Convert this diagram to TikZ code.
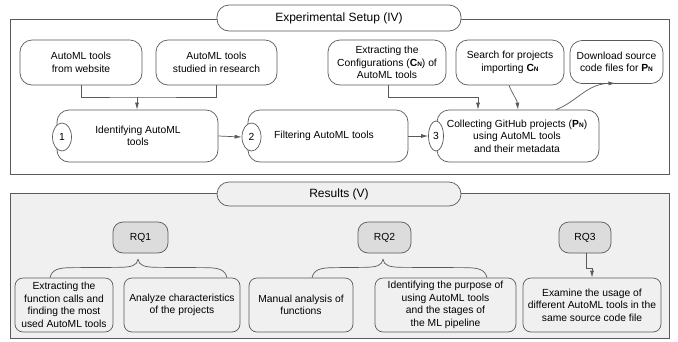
\documentclass[tikz,border=0pt]{standalone}
\usepackage{fontspec}
\setmainfont{Liberation Sans}
\usetikzlibrary{arrows.meta,shapes.geometric,calc}
\definecolor{ln}{HTML}{5A5A5A}
\definecolor{bgg}{HTML}{F0F0F0}
\definecolor{rqg}{HTML}{DCDCDC}
\newcommand{\subN}[1]{\textbf{#1\fontsize{6.5}{7}\selectfont N}}
\begin{document}
\begin{tikzpicture}[x=1pt,y=-1pt,
  every node/.style={font=\fontsize{10.3}{12.5}\selectfont, align=center, inner sep=0pt},
  frame/.style={draw=ln, line width=0.7pt},
  pill/.style={draw=ln, line width=0.7pt, rounded corners=12pt},
  tbox/.style={draw=ln, line width=0.7pt, rounded corners=12pt, fill=white},
  sbox/.style={draw=ln, line width=0.7pt, rounded corners=8pt, fill=bgg},
  rqbox/.style={draw=ln, line width=0.7pt, rounded corners=10pt, fill=rqg},
  numell/.style={draw=ln, line width=0.7pt, ellipse, fill=white, minimum width=19pt, minimum height=28pt},
  conn/.style={draw=ln, line width=0.7pt},
  arr/.style={draw=ln, line width=0.7pt, -{Latex[length=7pt,width=4pt]}}
]
\useasboundingbox (0,0) rectangle (678,341);
% frames
\draw[frame, fill=white] (10,19) rectangle (669,174);
\draw[pill, fill=white] (217,5) rectangle (461,31);
\node[font=\fontsize{12}{14}\selectfont] (t1) at (339,18) {Experimental Setup (IV)};
\draw[frame, fill=bgg] (10,193) rectangle (669,338);
\draw[pill, fill=bgg] (217,182) rectangle (461,206);
\node[font=\fontsize{12}{14}\selectfont] (t2) at (339,194) {Results (V)};

% top row
\node[tbox, minimum width=122pt, minimum height=45pt] (tA) at (81,62.5) {AutoML tools\\from website};
\node[tbox, minimum width=121pt, minimum height=45pt] (tB) at (216.5,62.5) {AutoML tools\\studied in research};
\node[tbox, minimum width=118pt, minimum height=45pt] (tC) at (387,62.5) {Extracting the\\Configurations (\subN{C}) of\\AutoML tools};
\node[tbox, minimum width=108pt, minimum height=45pt] (tD) at (510,62.5) {Search for projects\\importing \subN{C}};
\node[tbox, minimum width=93pt, minimum height=43pt] (tE) at (616.5,62) {Download source\\code files for \subN{P}};

% second row
\node[tbox, minimum width=161pt, minimum height=52pt] (b1) at (137.5,136) {};
\node (b1t) at (138,136) {Identifying AutoML\\tools};
\node[numell] (c1) at (62,137) {1};
\node[tbox, minimum width=160pt, minimum height=52pt] (b2) at (328,136) {};
\node (b2t) at (324,136) {Filtering AutoML tools};
\node[numell] (c2) at (251.5,137) {2};
\node[tbox, minimum width=162pt, minimum height=52pt] (b3) at (518,136) {};
\node (b3t) at (517,136) {Collecting GitHub projects (\subN{P})\\using AutoML tools\\and their metadata};
\node[numell, minimum width=15pt, minimum height=30pt] (c3) at (436,136) {3};

% connectors top
\coordinate (j1) at (137,97);
\draw[conn] (tA.south) |- (j1) -| (tB.south);
\draw[arr] (j1) -- (j1 |- b1.north);
\coordinate (j2) at (478,97);
\draw[conn] ($(tC.south)+(1,0)$) |- (j2);
\draw[arr] (j2) -- (j2 |- b3.north);
\draw[arr] ($(tD.south)+(-1,0)$) .. controls ($(tD.south)+(3,10)$) and ($(tD.south)+(7,14)$) .. ($(b3.north)+(0,0)$);
\draw[arr] ($(b3.north)+(38,0)$) .. controls ($(b3.north)+(59,-8)$) and ($(b3.north)+(69,-26)$) .. ($(tE.south)+(-1,-0.5)$);
\draw[arr] (b1.east) -- (c2.west);
\draw[arr] (b2.east) -- (c3.west);

% bottom
\node[rqbox, minimum width=55pt, minimum height=31pt] (rq1) at (140.5,237.5) {RQ1};
\node[rqbox, minimum width=53pt, minimum height=31pt] (rq2) at (384.5,237.5) {RQ2};
\node[rqbox, minimum width=52pt, minimum height=31pt] (rq3) at (585,237.5) {RQ3};

\node[sbox, minimum width=98pt, minimum height=54pt] (s1) at (64,305) {Extracting the\\function calls and\\finding the most\\used AutoML tools};
\node[sbox, minimum width=116pt, minimum height=54pt] (s2) at (182,305) {Analyze characteristics\\of the projects};
\node[sbox, minimum width=104pt, minimum height=54pt] (s3) at (301,305) {Manual analysis of\\functions};
\node[sbox, minimum width=141pt, minimum height=54pt] (s4) at (445.5,305) {Identifying the purpose of\\using AutoML tools\\and the stages of\\the ML pipeline};
\node[sbox, minimum width=138pt, minimum height=54pt] (s5) at (592,305) {Examine the usage of\\different AutoML tools in the\\same source code file};

% braces
\coordinate (p1) at ($(rq1.south)+(-2.5,6)$);
\coordinate (l1) at ($(s1.north)+(-14,0)$);
\coordinate (r1) at ($(s2.north)+(45,0)$);
\draw[conn] (l1) .. controls ($(l1)+(2,-8)$) and ($(l1)+(8,-10)$) .. ($(l1)+(22,-10)$)
  -- ($(p1)+(-20,8)$) .. controls ($(p1)+(-6,8)$) and ($(p1)+(-1,6)$) .. (p1)
  .. controls ($(p1)+(1,6)$) and ($(p1)+(6,8)$) .. ($(p1)+(20,8)$)
  -- ($(r1)+(-22,-10)$) .. controls ($(r1)+(-8,-10)$) and ($(r1)+(-2,-8)$) .. (r1);
\coordinate (p2) at ($(rq2.south)+(-1.5,6)$);
\coordinate (l2) at ($(s3.north)+(11,0)$);
\coordinate (r2) at ($(s4.north)+(41.5,0)$);
\draw[conn] (l2) .. controls ($(l2)+(2,-8)$) and ($(l2)+(8,-10)$) .. ($(l2)+(22,-10)$)
  -- ($(p2)+(-20,8)$) .. controls ($(p2)+(-6,8)$) and ($(p2)+(-1,6)$) .. (p2)
  .. controls ($(p2)+(1,6)$) and ($(p2)+(6,8)$) .. ($(p2)+(20,8)$)
  -- ($(r2)+(-22,-10)$) .. controls ($(r2)+(-8,-10)$) and ($(r2)+(-2,-8)$) .. (r2);
\coordinate (k3) at (592,268);
\draw[arr] ($(rq3.south)+(1,0)$) |- (k3) -- (k3 |- s5.north);
\end{tikzpicture}
\end{document}
